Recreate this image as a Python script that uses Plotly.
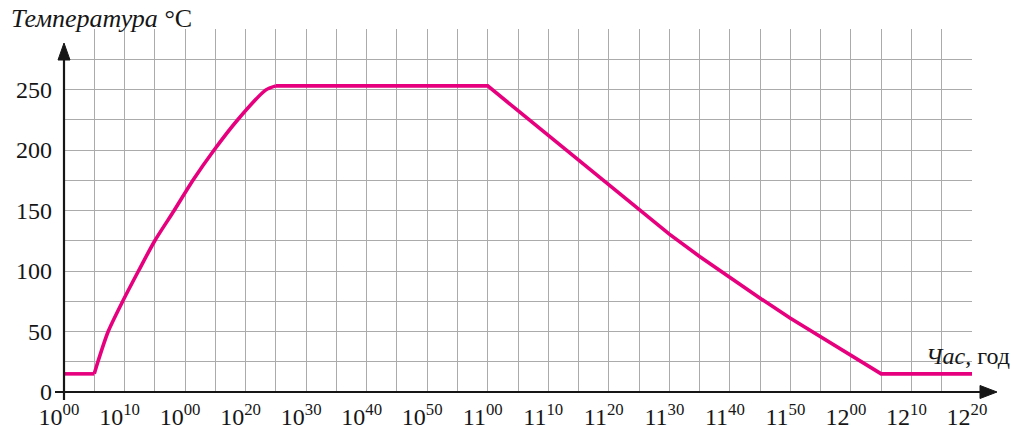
import plotly.graph_objects as go

# ---- data (minutes after 10:00, temperature °C) ----
time_min = [0, 5, 5.6, 7.3, 9.7, 12.3, 15.0, 18.2, 21.3, 24.8, 28.7, 33.3, 35,
            70, 75, 80, 85, 90, 95, 100, 105, 110, 115, 120, 125, 130, 135, 150]
temp = [15, 15, 25, 50, 75, 100, 125, 150, 175, 200, 225, 249.5, 253,
        253, 232.5, 212, 191.5, 171, 150.5, 130.5, 112, 94.5, 77.5, 61, 45.5, 30, 15, 15]

x_tick_vals = [0, 10, 20, 30, 40, 50, 60, 70, 80, 90, 100, 110, 120, 130, 140, 150]
x_tick_text = ["10<sup>00</sup>", "10<sup>10</sup>", "10<sup>00</sup>", "10<sup>20</sup>",
               "10<sup>30</sup>", "10<sup>40</sup>", "10<sup>50</sup>", "11<sup>00</sup>",
               "11<sup>10</sup>", "11<sup>20</sup>", "11<sup>30</sup>", "11<sup>40</sup>",
               "11<sup>50</sup>", "12<sup>00</sup>", "12<sup>10</sup>", "12<sup>20</sup>"]
y_tick_vals = [0, 50, 100, 150, 200, 250]
y_tick_text = ["0", "50", "100", "150", "200", "250"]

# ---- layout geometry (body margin removed, figure fills the window) ----
W, H = 1014, 426
L, T = 64, 29
R = W - 972
B = H - 392
PW, PH = W - L - R, H - T - B


def px_x(p):  # page pixel -> paper x
    return (p - L) / PW


def px_y(p):  # page pixel -> paper y
    return (H - B - p) / PH


FONT = "Liberation Serif"
GRID = "#ABABAB"
LINE = "#E6007E"
INK = "#161616"

fig = go.Figure()
# flat start, smooth heating curve, plateau + cooling (all from the same arrays)
segments = [(0, 2, "linear"), (1, 13, "spline"), (12, len(time_min), "linear")]
for a, b, shape in segments:
    fig.add_trace(go.Scatter(x=time_min[a:b], y=temp[a:b], mode="lines",
                             line=dict(color=LINE, width=3.6, shape=shape, smoothing=0.7),
                             hoverinfo="skip", showlegend=False))

shapes = []
# x axis line + arrow
shapes.append(dict(type="line", xref="paper", yref="paper",
                   x0=px_x(55), x1=px_x(985), y0=px_y(392), y1=px_y(392),
                   line=dict(color=INK, width=2.2), layer="above"))
shapes.append(dict(type="path", xref="paper", yref="paper",
                   path=f"M {px_x(997)},{px_y(392)} L {px_x(980)},{px_y(385.5)} "
                        f"L {px_x(980)},{px_y(398.5)} Z",
                   fillcolor=INK, line=dict(color=INK, width=1), layer="above"))
# y axis line + arrow
shapes.append(dict(type="line", xref="paper", yref="paper",
                   x0=px_x(64), x1=px_x(64), y0=px_y(400), y1=px_y(55),
                   line=dict(color=INK, width=2.2), layer="above"))
shapes.append(dict(type="path", xref="paper", yref="paper",
                   path=f"M {px_x(64)},{px_y(43)} L {px_x(58)},{px_y(60)} "
                        f"L {px_x(70)},{px_y(60)} Z",
                   fillcolor=INK, line=dict(color=INK, width=1), layer="above"))

annotations = [
    dict(xref="paper", yref="paper", x=px_x(9), y=px_y(19), xanchor="left", yanchor="middle",
         text="<i>Температура</i> °С", showarrow=False,
         font=dict(family=FONT, size=26, color=INK)),
    dict(xref="paper", yref="paper", x=px_x(1012), y=px_y(356), xanchor="right", yanchor="middle",
         text="<i>Час,</i> год", showarrow=False,
         font=dict(family=FONT, size=24, color=INK)),
]

fig.update_layout(
    width=W, height=H,
    margin=dict(l=L, r=R, t=T, b=B, pad=0, autoexpand=False),
    paper_bgcolor="white", plot_bgcolor="white",
    shapes=shapes, annotations=annotations,
    showlegend=False,
    xaxis=dict(range=[0, 150], tickmode="array", tickvals=x_tick_vals, ticktext=x_tick_text,
               showgrid=True, gridcolor=GRID, gridwidth=1.3, zeroline=False, showline=False,
               ticks="", ticklabelstandoff=8, ticklabelshift=-5, automargin=False,
               tickfont=dict(family=FONT, size=24, color=INK),
               minor=dict(dtick=5, tick0=0, showgrid=True, gridcolor=GRID, gridwidth=1.3),
               fixedrange=True),
    yaxis=dict(range=[0, 300], tickmode="array", tickvals=y_tick_vals, ticktext=y_tick_text,
               showgrid=True, gridcolor=GRID, gridwidth=1.3, zeroline=False, showline=False,
               ticks="", ticklabelstandoff=11, automargin=False,
               tickfont=dict(family=FONT, size=24, color=INK),
               minor=dict(dtick=25, tick0=0, showgrid=True, gridcolor=GRID, gridwidth=1.3),
               fixedrange=True),
)

fig.write_html("out.html", config={"displayModeBar": False},
               post_script="document.body.style.margin='0';document.body.style.overflow='hidden';")
